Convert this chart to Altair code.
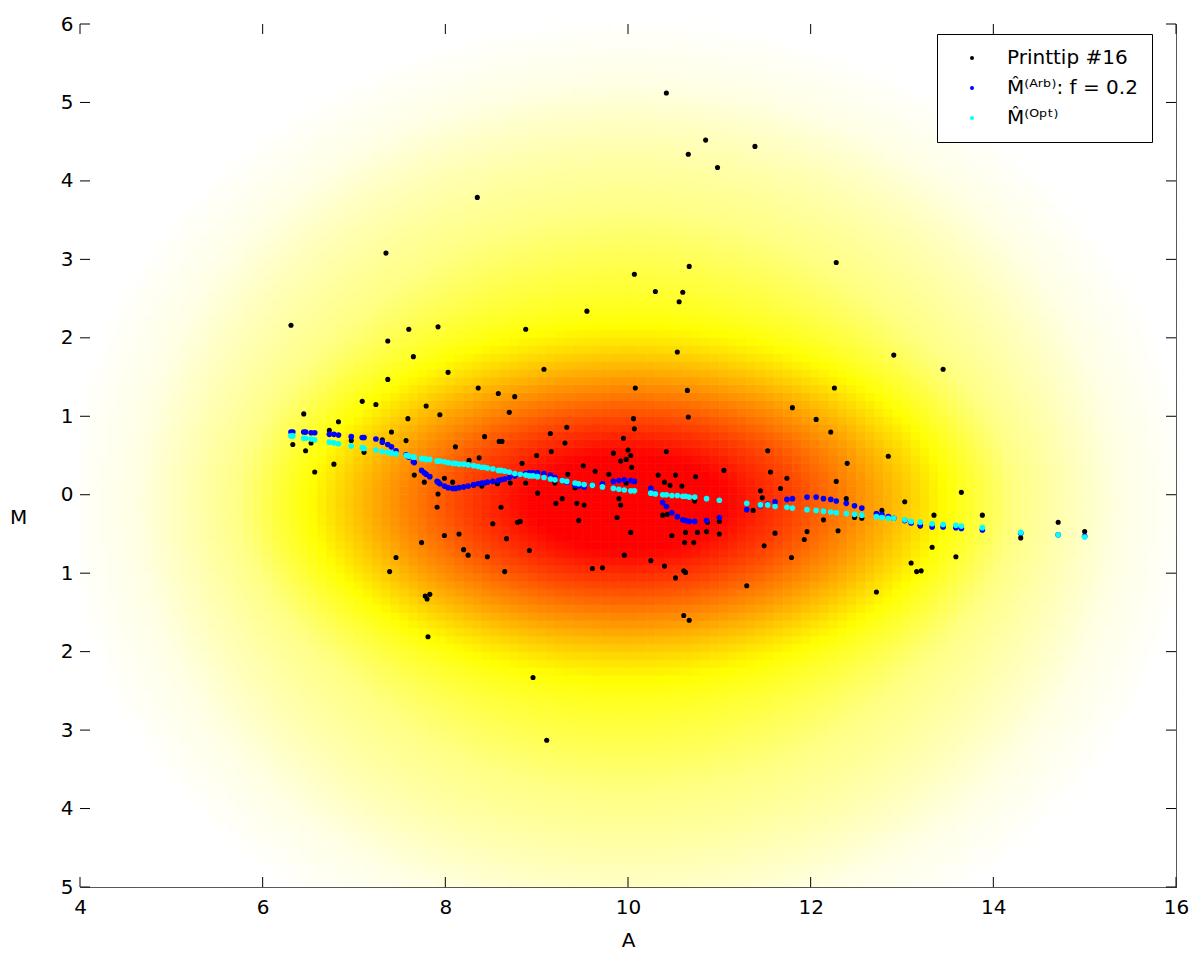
import numpy as np
import pandas as pd
import altair as alt

# ---------------- data ----------------
# Printtip #16 observations (A, M)
pt_A = [6.31, 7.60, 7.92, 7.37, 7.65, 8.03, 7.37, 8.36, 8.58, 8.76, 7.09, 7.24, 7.79, 6.45, 8.70,
        7.59, 7.94, 6.83, 6.73, 7.41, 8.43, 8.59, 8.62, 6.97, 7.31, 7.57, 6.33, 6.53, 6.47, 8.11,
        7.11, 8.26, 8.37, 6.78, 6.57, 7.66, 7.99,
        8.08, 7.77, 7.92, 8.71, 8.57, 8.31, 8.40, 7.91, 8.61, 8.52, 8.79, 7.99, 8.15, 8.67, 7.74,
        8.20, 8.25, 8.46, 7.46, 7.39, 8.65, 7.78, 7.83, 7.80, 7.81,
        10.30, 10.60, 10.56, 9.55, 8.88, 10.54, 9.08, 10.08, 10.65, 10.06, 10.66, 10.07, 9.33, 9.15,
        9.31, 9.95, 9.16, 10.00, 9.00, 9.84, 10.03, 9.92, 9.98, 10.42, 11.53, 8.84, 9.51, 10.04,
        9.64, 9.79, 10.33, 10.52, 10.74, 11.05, 9.34, 11.56,
        8.88, 9.01, 9.20, 9.42, 9.21, 9.28, 9.44, 9.52, 9.46, 9.90, 9.92, 9.88, 9.98, 8.82, 10.40,
        10.46, 10.59, 10.03, 10.38, 10.43, 10.48, 10.63, 10.76, 10.86, 11.00, 10.62, 10.72, 10.87,
        11.00, 10.73, 11.37, 11.45, 11.47, 11.49, 8.92, 9.96, 10.25, 10.40, 9.61, 9.72, 10.61,
        10.63, 10.52, 11.30, 10.61, 10.67, 8.96,
        12.91, 13.45, 12.26, 11.80, 12.06, 12.22, 12.85, 12.40, 11.74, 12.28,
        11.67, 13.65, 13.03, 12.39, 13.35, 13.88, 12.78, 12.48, 12.56, 12.14, 11.61, 11.96, 12.30,
        11.93, 11.79, 13.20, 13.33, 13.59, 13.10, 13.16, 13.21, 12.72, 14.71, 14.30, 15.00,
        10.42, 10.85, 10.66, 10.98, 11.39, 8.35, 7.35, 10.07, 10.67, 12.28, 9.11]
pt_M = [2.16, 2.11, 2.14, 1.96, 1.76, 1.56, 1.47, 1.36, 1.29, 1.25, 1.19, 1.15, 1.13, 1.03, 1.05,
        0.97, 1.02, 0.93, 0.82, 0.80, 0.74, 0.68, 0.68, 0.69, 0.70, 0.69, 0.64, 0.66, 0.56, 0.61,
        0.54, 0.44, 0.47, 0.39, 0.29, 0.25, 0.21,
        0.16, 0.16, 0.01, 0.15, 0.14, 0.12, 0.11, -0.16, -0.16, -0.37, -0.35, -0.52, -0.50, -0.56, -0.61,
        -0.70, -0.77, -0.79, -0.80, -0.98, -0.98, -1.29, -1.27, -1.33, -1.81,
        2.59, 2.58, 2.46, 2.34, 2.11, 1.82, 1.60, 1.36, 1.33, 0.97, 0.99, 0.84, 0.86, 0.78,
        0.66, 0.72, 0.55, 0.57, 0.50, 0.53, 0.50, 0.43, 0.45, 0.55, 0.56, 0.40, 0.37, 0.35,
        0.30, 0.26, 0.25, 0.25, 0.23, 0.31, 0.26, 0.29,
        0.15, 0.02, 0.15, 0.09, -0.11, -0.05, -0.11, -0.13, -0.33, -0.05, -0.13, -0.29, 0.15, -0.34, 0.16,
        0.12, 0.11, -0.48, -0.26, -0.25, -0.52, -0.48, -0.48, -0.47, -0.50, -0.61, -0.61, -0.35,
        -0.34, -0.08, -0.20, 0.05, -0.04, -0.65, -0.71, -0.77, -0.84, -0.91, -0.94, -0.93, -0.97,
        -0.99, -1.06, -1.16, -1.54, -1.60, -2.33,
        1.78, 1.60, 1.36, 1.11, 0.96, 0.80, 0.49, 0.40, 0.21, 0.17,
        0.08, 0.03, -0.09, -0.05, -0.26, -0.26, -0.20, -0.29, -0.30, -0.32, -0.49, -0.47, -0.46,
        -0.57, -0.80, -0.40, -0.67, -0.79, -0.87, -0.98, -0.97, -1.24, -0.35, -0.55, -0.47,
        5.12, 4.52, 4.34, 4.17, 4.44, 3.79, 3.08, 2.81, 2.91, 2.96, -3.13]

# fitted values: arbitrary-span loess (blue) and optimal fit (cyan), at the same A positions
fit_A = [6.31, 6.33, 6.45, 6.47, 6.53, 6.57, 6.73, 6.78, 6.83, 6.97, 7.09, 7.11, 7.24, 7.31, 7.37,
         7.41, 7.46, 7.57, 7.59, 7.60, 7.65, 7.66, 7.74, 7.77, 7.79, 7.83, 7.91, 7.92, 7.94, 7.99,
         8.03, 8.08, 8.11, 8.15, 8.20, 8.25, 8.31, 8.36, 8.40, 8.43, 8.46, 8.52, 8.58, 8.61, 8.65,
         8.70, 8.76, 8.82, 8.88, 8.92, 8.96, 9.01, 9.08, 9.15, 9.20, 9.28, 9.33, 9.42, 9.46, 9.52,
         9.61, 9.72, 9.84, 9.90, 9.96, 10.03, 10.07, 10.25, 10.30, 10.38, 10.42, 10.48, 10.54, 10.60,
         10.63, 10.67, 10.73, 10.86, 11.00, 11.30, 11.45, 11.53, 11.61, 11.74, 11.80, 11.96, 12.06,
         12.14, 12.22, 12.28, 12.39, 12.48, 12.56, 12.72, 12.78, 12.85, 12.91, 13.03, 13.10, 13.20,
         13.33, 13.45, 13.59, 13.65, 13.88, 14.30, 14.71, 15.00]
arb_M = [0.80, 0.80, 0.80, 0.80, 0.79, 0.79, 0.77, 0.77, 0.76, 0.74, 0.73, 0.73, 0.71, 0.67, 0.64,
         0.61, 0.56, 0.51, 0.49, 0.48, 0.42, 0.41, 0.31, 0.28, 0.26, 0.23, 0.17, 0.16, 0.14, 0.11,
         0.09, 0.08, 0.08, 0.09, 0.10, 0.11, 0.13, 0.14, 0.15, 0.15, 0.16, 0.17, 0.18, 0.19, 0.20,
         0.22, 0.24, 0.26, 0.27, 0.28, 0.28, 0.28, 0.27, 0.25, 0.22, 0.18, 0.16, 0.12, 0.11, 0.10,
         0.12, 0.14, 0.17, 0.18, 0.19, 0.18, 0.17, 0.08, 0.02, -0.10, -0.15, -0.23, -0.28, -0.32,
         -0.33, -0.34, -0.34, -0.33, -0.29, -0.19, -0.14, -0.12, -0.09, -0.06, -0.05, -0.03, -0.03,
         -0.05, -0.06, -0.08, -0.11, -0.14, -0.17, -0.24, -0.25, -0.28, -0.30, -0.33, -0.36, -0.39,
         -0.41, -0.41, -0.42, -0.43, -0.45, -0.49, -0.51, -0.53]
opt_M = [0.75, 0.75, 0.72, 0.72, 0.71, 0.70, 0.67, 0.66, 0.65, 0.62, 0.60, 0.59, 0.57, 0.55, 0.54,
         0.53, 0.52, 0.50, 0.50, 0.49, 0.48, 0.48, 0.46, 0.46, 0.45, 0.45, 0.43, 0.43, 0.43, 0.42,
         0.41, 0.40, 0.40, 0.39, 0.39, 0.38, 0.37, 0.36, 0.35, 0.35, 0.34, 0.33, 0.31, 0.31, 0.30,
         0.29, 0.27, 0.26, 0.25, 0.24, 0.24, 0.23, 0.22, 0.20, 0.19, 0.18, 0.17, 0.15, 0.14, 0.13,
         0.12, 0.10, 0.08, 0.07, 0.06, 0.05, 0.05, 0.02, 0.01, 0.00, 0.00, -0.01, -0.01, -0.02,
         -0.02, -0.03, -0.03, -0.05, -0.07, -0.11, -0.13, -0.13, -0.15, -0.16, -0.17, -0.19, -0.20,
         -0.21, -0.22, -0.23, -0.24, -0.25, -0.26, -0.28, -0.29, -0.30, -0.30, -0.32, -0.34, -0.35,
         -0.37, -0.38, -0.39, -0.40, -0.42, -0.48, -0.51, -0.54]

series_names = ["Printtip #16",
                "M\u0302\u207D\u1D2C\u02B3\u1D47\u207E: f = 0.2",
                "M\u0302\u207D\u1D3C\u1D56\u1D57\u207E"]
series_colors = ["#000000", "#0000ff", "#00ffff"]

x_ticks = [4, 6, 8, 10, 12, 14, 16]
y_ticks = [-5, -4, -3, -2, -1, 0, 1, 2, 3, 4, 5, 6]

# background density shading: a narrow elliptical core plus a broad, round component
bg_center = (10.0, -0.1)
bg_core_sd = (1.4, 0.8)
bg_broad_sd = (2.6, 2.6)
bg_broad_w = 0.1
# shading level (0 red, 1 yellow, 2 white) at given density values
bg_dens = [0.006, 0.012, 0.02, 0.036, 0.053, 0.086, 0.2, 0.32, 0.45, 0.65, 0.85, 2.0]
bg_level = [2.0, 1.9, 1.72, 1.52, 1.28, 1.0, 0.78, 0.66, 0.56, 0.45, 0.35, 0.0]

# ---------------- build tables ----------------
W, H = 1096, 863
FONT = "DejaVu Sans"

a_edges = np.round(np.linspace(4, 16, 121), 3)
m_edges = np.round(np.linspace(-5, 6, 111), 3)
A0, M0 = np.meshgrid(a_edges[:-1], m_edges[:-1])
A1, M1 = np.meshgrid(a_edges[1:], m_edges[1:])
dA = (A0 + A1) / 2 - bg_center[0]
dM = (M0 + M1) / 2 - bg_center[1]
dens = (np.exp(-0.5 * ((dA / bg_core_sd[0]) ** 2 + (dM / bg_core_sd[1]) ** 2))
        + bg_broad_w * np.exp(-0.5 * ((dA / bg_broad_sd[0]) ** 2 + (dM / bg_broad_sd[1]) ** 2)))
L = np.interp(np.log(dens), np.log(bg_dens), bg_level)
bg = pd.DataFrame({"A": A0.ravel(), "a1": A1.ravel(), "M": M0.ravel(), "m1": M1.ravel(),
                   "L": np.round(L.ravel(), 3)})

pts = pd.DataFrame({"A": pt_A, "M": pt_M, "series": series_names[0]})
arb = pd.DataFrame({"A": fit_A, "M": arb_M, "series": series_names[1]})
opt = pd.DataFrame({"A": fit_A, "M": opt_M, "series": series_names[2]})
xt = pd.DataFrame({"A": x_ticks})
yt = pd.DataFrame({"M": y_ticks})

xscale = alt.Scale(domain=[4, 16], nice=False, zero=False)
yscale = alt.Scale(domain=[-5, 6], nice=False, zero=False)
shade = alt.Scale(domain=[0, 0.35, 1, 2], range=["#ff0000", "#ff0000", "#ffff00", "#ffffff"],
                  interpolate="rgb")

xaxis = alt.Axis(values=x_ticks, ticks=False, domain=False, grid=False, labelFont=FONT,
                 labelFontSize=20, labelColor="black", labelPadding=10, labelFlush=False,
                 titleFont=FONT, titleFontSize=20, titleFontWeight="normal", titleColor="black",
                 titleY=53, titleBaseline="middle")
yaxis = alt.Axis(values=y_ticks, ticks=False, domain=False, grid=False, labelFont=FONT,
                 labelFontSize=20, labelColor="black", labelPadding=7, labelFlush=False,
                 labelExpr="format(abs(datum.value), 'd')", titleFont=FONT,
                 titleFontSize=20, titleFontWeight="normal", titleColor="black", titleAngle=0,
                 titleX=-62, titleY=493, titleAlign="center", titleBaseline="middle")

X = alt.X("A:Q", scale=xscale, axis=xaxis, title="A")
Y = alt.Y("M:Q", scale=yscale, axis=yaxis, title="M")

background = alt.Chart(bg).mark_rect(strokeWidth=0.7).encode(
    x=X, x2="a1:Q", y=Y, y2="m1:Q",
    fill=alt.Fill("L:Q", scale=shade, legend=None),
    stroke=alt.Stroke("L:Q", scale=shade, legend=None),
)

color = alt.Color("series:N", scale=alt.Scale(domain=series_names, range=series_colors),
                  legend=alt.Legend(orient="none", legendX=857, legendY=10, title=None,
                                    fillColor="white", strokeColor="black",
                                    padding=14, symbolType="circle",
                                    symbolSize=16, symbolOffset=11, labelOffset=25,
                                    labelFont=FONT, labelFontSize=20, labelColor="black",
                                    labelLimit=400, rowPadding=10))


def dots(df, size):
    return alt.Chart(df).mark_circle(size=size, opacity=1).encode(x=X, y=Y, color=color)


black = dots(pts, 26)
blue = dots(arb, 32)
cyan = dots(opt, 32)

TL = 10
tick_bottom = alt.Chart(xt).mark_rule(color="black").encode(x=X, y=alt.value(H), y2=alt.value(H - TL))
tick_top = alt.Chart(xt).mark_rule(color="black").encode(x=X, y=alt.value(0), y2=alt.value(TL))
tick_left = alt.Chart(yt).mark_rule(color="black").encode(y=Y, x=alt.value(0), x2=alt.value(TL))
tick_right = alt.Chart(yt).mark_rule(color="black").encode(y=Y, x=alt.value(W - TL), x2=alt.value(W))

chart = alt.layer(background, black, blue, cyan, tick_bottom, tick_top, tick_left, tick_right).properties(
    width=W, height=H,
    autosize=alt.AutoSizeParams(type="none"),
    padding={"left": 72, "top": 16, "right": 16, "bottom": 64},
    background="white",
).configure_view(stroke="black", strokeWidth=1).configure_legend(cornerRadius=0, strokeWidth=1)

chart.save("out.html", embed_options={"renderer": "svg", "actions": False})
